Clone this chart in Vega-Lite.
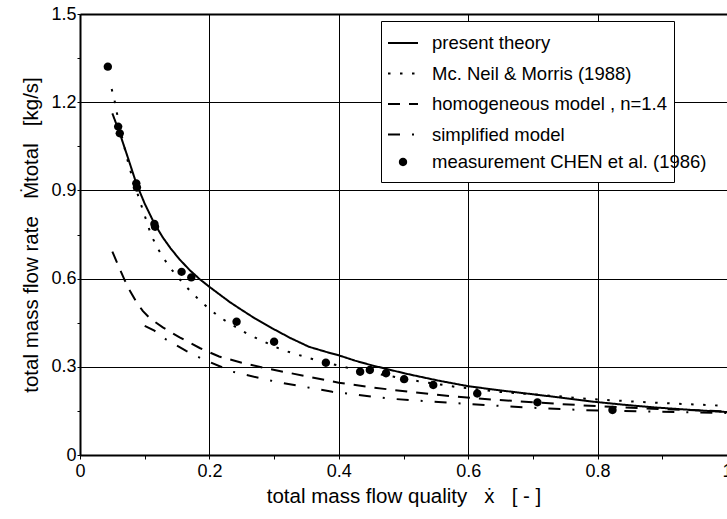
{
  "$schema": "https://vega.github.io/schema/vega-lite/v6.json",
  "width": 647,
  "height": 441,
  "autosize": {"type": "none"},
  "padding": {"left": 80, "top": 14, "right": 0, "bottom": 64},
  "config": {
    "font": "Liberation Sans",
    "view": {"stroke": null},
    "axis": {"labelColor": "black", "titleColor": "black", "labelFontSize": 18, "titleFontSize": 20.5, "titleFontWeight": "normal", "tickColor": "black", "tickWidth": 1, "tickSize": 4, "domainColor": "black", "domainWidth": 2, "gridColor": "black", "gridWidth": 1, "labelOverlap": false, "labelFlush": false}
  },
  "datasets": {
    "curves": [
      {"series": "present theory", "x": 0.050, "y": 1.162},
      {"series": "present theory", "x": 0.0615, "y": 1.094},
      {"series": "present theory", "x": 0.075, "y": 1.005},
      {"series": "present theory", "x": 0.087, "y": 0.924},
      {"series": "present theory", "x": 0.100, "y": 0.855},
      {"series": "present theory", "x": 0.115, "y": 0.787},
      {"series": "present theory", "x": 0.128, "y": 0.740},
      {"series": "present theory", "x": 0.140, "y": 0.703},
      {"series": "present theory", "x": 0.154, "y": 0.665},
      {"series": "present theory", "x": 0.170, "y": 0.628},
      {"series": "present theory", "x": 0.185, "y": 0.598},
      {"series": "present theory", "x": 0.200, "y": 0.572},
      {"series": "present theory", "x": 0.231, "y": 0.521},
      {"series": "present theory", "x": 0.246, "y": 0.499},
      {"series": "present theory", "x": 0.270, "y": 0.465},
      {"series": "present theory", "x": 0.297, "y": 0.431},
      {"series": "present theory", "x": 0.325, "y": 0.398},
      {"series": "present theory", "x": 0.354, "y": 0.368},
      {"series": "present theory", "x": 0.380, "y": 0.351},
      {"series": "present theory", "x": 0.400, "y": 0.339},
      {"series": "present theory", "x": 0.425, "y": 0.321},
      {"series": "present theory", "x": 0.451, "y": 0.305},
      {"series": "present theory", "x": 0.503, "y": 0.277},
      {"series": "present theory", "x": 0.554, "y": 0.253},
      {"series": "present theory", "x": 0.600, "y": 0.234},
      {"series": "present theory", "x": 0.645, "y": 0.221},
      {"series": "present theory", "x": 0.687, "y": 0.210},
      {"series": "present theory", "x": 0.740, "y": 0.196},
      {"series": "present theory", "x": 0.790, "y": 0.182},
      {"series": "present theory", "x": 0.840, "y": 0.171},
      {"series": "present theory", "x": 0.887, "y": 0.162},
      {"series": "present theory", "x": 0.940, "y": 0.154},
      {"series": "present theory", "x": 1.000, "y": 0.146},
      {"series": "Mc. Neil & Morris (1988)", "x": 0.049, "y": 1.245},
      {"series": "Mc. Neil & Morris (1988)", "x": 0.054, "y": 1.200},
      {"series": "Mc. Neil & Morris (1988)", "x": 0.057, "y": 1.164},
      {"series": "Mc. Neil & Morris (1988)", "x": 0.063, "y": 1.100},
      {"series": "Mc. Neil & Morris (1988)", "x": 0.069, "y": 1.043},
      {"series": "Mc. Neil & Morris (1988)", "x": 0.073, "y": 1.007},
      {"series": "Mc. Neil & Morris (1988)", "x": 0.080, "y": 0.950},
      {"series": "Mc. Neil & Morris (1988)", "x": 0.094, "y": 0.854},
      {"series": "Mc. Neil & Morris (1988)", "x": 0.110, "y": 0.748},
      {"series": "Mc. Neil & Morris (1988)", "x": 0.120, "y": 0.703},
      {"series": "Mc. Neil & Morris (1988)", "x": 0.128, "y": 0.674},
      {"series": "Mc. Neil & Morris (1988)", "x": 0.138, "y": 0.640},
      {"series": "Mc. Neil & Morris (1988)", "x": 0.1615, "y": 0.578},
      {"series": "Mc. Neil & Morris (1988)", "x": 0.187, "y": 0.521},
      {"series": "Mc. Neil & Morris (1988)", "x": 0.215, "y": 0.470},
      {"series": "Mc. Neil & Morris (1988)", "x": 0.231, "y": 0.448},
      {"series": "Mc. Neil & Morris (1988)", "x": 0.262, "y": 0.408},
      {"series": "Mc. Neil & Morris (1988)", "x": 0.313, "y": 0.357},
      {"series": "Mc. Neil & Morris (1988)", "x": 0.364, "y": 0.323},
      {"series": "Mc. Neil & Morris (1988)", "x": 0.415, "y": 0.296},
      {"series": "Mc. Neil & Morris (1988)", "x": 0.465, "y": 0.274},
      {"series": "Mc. Neil & Morris (1988)", "x": 0.523, "y": 0.251},
      {"series": "Mc. Neil & Morris (1988)", "x": 0.580, "y": 0.232},
      {"series": "Mc. Neil & Morris (1988)", "x": 0.646, "y": 0.215},
      {"series": "Mc. Neil & Morris (1988)", "x": 0.738, "y": 0.200},
      {"series": "Mc. Neil & Morris (1988)", "x": 0.790, "y": 0.190},
      {"series": "Mc. Neil & Morris (1988)", "x": 0.887, "y": 0.178},
      {"series": "Mc. Neil & Morris (1988)", "x": 1.000, "y": 0.167},
      {"series": "homogeneous model , n=1.4", "x": 0.050, "y": 0.692},
      {"series": "homogeneous model , n=1.4", "x": 0.060, "y": 0.640},
      {"series": "homogeneous model , n=1.4", "x": 0.069, "y": 0.595},
      {"series": "homogeneous model , n=1.4", "x": 0.078, "y": 0.555},
      {"series": "homogeneous model , n=1.4", "x": 0.087, "y": 0.521},
      {"series": "homogeneous model , n=1.4", "x": 0.097, "y": 0.490},
      {"series": "homogeneous model , n=1.4", "x": 0.108, "y": 0.465},
      {"series": "homogeneous model , n=1.4", "x": 0.128, "y": 0.434},
      {"series": "homogeneous model , n=1.4", "x": 0.154, "y": 0.400},
      {"series": "homogeneous model , n=1.4", "x": 0.185, "y": 0.364},
      {"series": "homogeneous model , n=1.4", "x": 0.215, "y": 0.335},
      {"series": "homogeneous model , n=1.4", "x": 0.250, "y": 0.314},
      {"series": "homogeneous model , n=1.4", "x": 0.287, "y": 0.295},
      {"series": "homogeneous model , n=1.4", "x": 0.354, "y": 0.266},
      {"series": "homogeneous model , n=1.4", "x": 0.400, "y": 0.246},
      {"series": "homogeneous model , n=1.4", "x": 0.451, "y": 0.230},
      {"series": "homogeneous model , n=1.4", "x": 0.508, "y": 0.215},
      {"series": "homogeneous model , n=1.4", "x": 0.574, "y": 0.200},
      {"series": "homogeneous model , n=1.4", "x": 0.636, "y": 0.189},
      {"series": "homogeneous model , n=1.4", "x": 0.738, "y": 0.174},
      {"series": "homogeneous model , n=1.4", "x": 0.800, "y": 0.166},
      {"series": "homogeneous model , n=1.4", "x": 0.900, "y": 0.156},
      {"series": "homogeneous model , n=1.4", "x": 1.000, "y": 0.148},
      {"series": "simplified model", "x": 0.100, "y": 0.439},
      {"series": "simplified model", "x": 0.115, "y": 0.423},
      {"series": "simplified model", "x": 0.133, "y": 0.393},
      {"series": "simplified model", "x": 0.164, "y": 0.354},
      {"series": "simplified model", "x": 0.187, "y": 0.329},
      {"series": "simplified model", "x": 0.236, "y": 0.283},
      {"series": "simplified model", "x": 0.303, "y": 0.249},
      {"series": "simplified model", "x": 0.390, "y": 0.215},
      {"series": "simplified model", "x": 0.477, "y": 0.192},
      {"series": "simplified model", "x": 0.554, "y": 0.180},
      {"series": "simplified model", "x": 0.590, "y": 0.175},
      {"series": "simplified model", "x": 0.687, "y": 0.162},
      {"series": "simplified model", "x": 0.774, "y": 0.153},
      {"series": "simplified model", "x": 0.900, "y": 0.147},
      {"series": "simplified model", "x": 1.000, "y": 0.143}
    ],
    "meas": [
      {"series": "measurement CHEN et al. (1986)", "x": 0.043, "y": 1.321},
      {"series": "measurement CHEN et al. (1986)", "x": 0.059, "y": 1.117},
      {"series": "measurement CHEN et al. (1986)", "x": 0.0615, "y": 1.094},
      {"series": "measurement CHEN et al. (1986)", "x": 0.087, "y": 0.924},
      {"series": "measurement CHEN et al. (1986)", "x": 0.088, "y": 0.910},
      {"series": "measurement CHEN et al. (1986)", "x": 0.115, "y": 0.786},
      {"series": "measurement CHEN et al. (1986)", "x": 0.116, "y": 0.776},
      {"series": "measurement CHEN et al. (1986)", "x": 0.157, "y": 0.623},
      {"series": "measurement CHEN et al. (1986)", "x": 0.172, "y": 0.604},
      {"series": "measurement CHEN et al. (1986)", "x": 0.242, "y": 0.453},
      {"series": "measurement CHEN et al. (1986)", "x": 0.300, "y": 0.385},
      {"series": "measurement CHEN et al. (1986)", "x": 0.380, "y": 0.314},
      {"series": "measurement CHEN et al. (1986)", "x": 0.433, "y": 0.283},
      {"series": "measurement CHEN et al. (1986)", "x": 0.448, "y": 0.289},
      {"series": "measurement CHEN et al. (1986)", "x": 0.473, "y": 0.278},
      {"series": "measurement CHEN et al. (1986)", "x": 0.501, "y": 0.258},
      {"series": "measurement CHEN et al. (1986)", "x": 0.546, "y": 0.238},
      {"series": "measurement CHEN et al. (1986)", "x": 0.614, "y": 0.209},
      {"series": "measurement CHEN et al. (1986)", "x": 0.707, "y": 0.179},
      {"series": "measurement CHEN et al. (1986)", "x": 0.823, "y": 0.153}
    ]
  },
  "encoding": {
    "x": {
      "field": "x", "type": "quantitative",
      "scale": {"domain": [0, 1], "nice": false, "zero": false},
      "axis": {
        "values": [0, 0.1, 0.2, 0.3, 0.4, 0.5, 0.6, 0.7, 0.8, 0.9, 1],
        "format": ".1~f",
        "labelExpr": "abs(datum.value*5-round(datum.value*5))<0.01 ? datum.label : ''",
        "grid": true,
        "gridOpacity": {"condition": {"test": "abs(datum.value*5-round(datum.value*5))>0.01 || datum.value>0.99", "value": 0}, "value": 1},
        "labelPadding": 3,
        "title": "total mass flow quality\u00a0\u00a0 ẋ \u00a0\u00a0[ - ]",
        "titlePadding": 6
      }
    },
    "y": {
      "field": "y", "type": "quantitative",
      "scale": {"domain": [0, 1.5], "nice": false, "zero": false},
      "axis": {
        "values": [0, 0.15, 0.3, 0.45, 0.6, 0.75, 0.9, 1.05, 1.2, 1.35, 1.5],
        "format": ".1~f",
        "labelExpr": "abs(datum.value/0.3-round(datum.value/0.3))<0.01 ? datum.label : ''",
        "grid": true,
        "gridOpacity": {"condition": {"test": "abs(datum.value/0.3-round(datum.value/0.3))>0.01", "value": 0}, "value": 1},
        "gridWidth": {"condition": {"test": "datum.value>1.49", "value": 2}, "value": 1},
        "labelPadding": 1,
        "tickSize": 3,
        "title": "total mass flow rate\u00a0\u00a0 Ṁtotal\u00a0\u00a0 [kg/s]",
        "titlePadding": 9
      }
    }
  },
  "layer": [
    {
      "data": {"name": "curves"},
      "mark": {"type": "line", "color": "black", "strokeWidth": 2},
      "encoding": {
        "strokeDash": {
          "field": "series", "type": "nominal",
          "scale": {
            "domain": ["present theory", "Mc. Neil & Morris (1988)", "homogeneous model , n=1.4", "simplified model"],
            "range": [[1, 0], [2.5, 9.5], [12, 9], [12, 12, 2, 12]]
          },
          "legend": {
            "orient": "none",
            "legendX": 301,
            "legendY": 7,
            "zindex": 1,
            "title": "\u2003\u2003\u2003\u2003\u2003\u2003\u2003\u2003\u2003\u2003\u2003\u2003\u2003\u2003\u2003\u2003\u2003\u2003",
            "titleOrient": "bottom",
            "titleFontSize": 17.5,
            "titlePadding": 14.5,
            "titleLimit": 1000,
            "strokeColor": "black",
            "fillColor": "white",
            "padding": 6,
            "rowPadding": 4.5,
            "labelFont": "Liberation Sans",
            "labelFontSize": 18.5,
            "labelColor": "black",
            "labelOffset": 13,
            "labelLimit": 400,
            "symbolType": "stroke",
            "symbolSize": 900,
            "symbolStrokeWidth": 2,
            "symbolStrokeColor": "black"
          }
        }
      }
    },
    {
      "data": {"name": "meas"},
      "mark": {"type": "point", "filled": true, "color": "black", "size": 900, "opacity": 1},
      "encoding": {
        "shape": {
          "field": "series", "type": "nominal",
          "scale": {
            "domain": ["measurement CHEN et al. (1986)"],
            "range": ["M0.28,0A0.28,0.28,0,1,1,-0.28,0A0.28,0.28,0,1,1,0.28,0Z"]
          },
          "legend": {
            "orient": "none",
            "legendX": 301,
            "legendY": 126,
            "zindex": 2,
            "title": null,
            "padding": 6,
            "labelFont": "Liberation Sans",
            "labelFontSize": 18.5,
            "labelColor": "black",
            "labelOffset": 13,
            "labelLimit": 400,
            "symbolSize": 900,
            "symbolFillColor": "black",
            "symbolOpacity": 1
          }
        }
      }
    }
  ]
}
